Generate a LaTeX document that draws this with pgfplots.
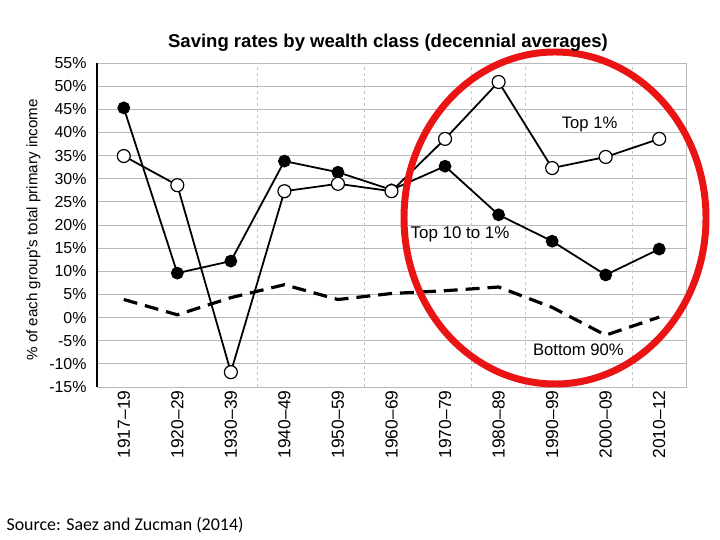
\documentclass[border=0pt]{standalone}
\usepackage{pgfplots}
\pgfplotsset{compat=1.18}
\usepackage{fontspec}
\setmainfont{Liberation Sans}
\newfontfamily\srcfont{Carlito}
\definecolor{circred}{RGB}{235,20,20}

\pgfplotstableread{
x  topten  topone  bottom
0  45.3    34.9    3.9
1  9.6     28.6    0.6
2  12.2   -11.8    4.3
3  33.8    27.3    7.1
4  31.4    28.9    3.9
5  27.6    27.3    5.2
6  32.7    38.6    5.8
7  22.2    50.9    6.6
8  16.5    32.3    2.2
9  9.2     34.7   -3.8
10 14.8    38.6    0.1
}\savings

\begin{document}
\begin{tikzpicture}[x=1bp,y=1bp]
\useasboundingbox (0,0) rectangle (720,540);
\begin{axis}[
  at={(97bp,153bp)}, anchor=south west,
  scale only axis, width=589bp, height=324bp,
  xmin=-0.5, xmax=10.5, ymin=-15, ymax=55,
  ytick={-15,-10,...,55},
  yticklabel={\pgfmathprintnumber{\tick}\%},
  /pgf/number format/assume math mode=true,
  xtick={0,...,10},
  xticklabels={1917--19,1920--29,1930--39,1940--49,1950--59,1960--69,1970--79,1980--89,1990--99,2000--09,2010--12},
  xticklabel style={rotate=90, anchor=east, font=\fontsize{17.5}{20}\selectfont},
  yticklabel style={font=\fontsize{16}{19}\selectfont, xshift=-7bp},
  extra x ticks={2.5,4.5,6.5,7.5,9.5},
  extra x tick labels={},
  extra x tick style={grid=major, major grid style={gray!45, dashed, line width=0.8pt}},
  ymajorgrids, major grid style={gray!55, line width=0.8pt},
  major tick length=0pt,
  axis line style={gray!55, line width=0.8pt},
  ylabel={\% of each group's total primary income},
  ylabel style={at={(axis description cs:-0.09,0.485)}, font=\fontsize{15.2}{18}\selectfont},
  clip=false,
]
\draw[black, line width=1.3pt] (axis cs:-0.5,-15) -- (axis cs:-0.5,55);
\addplot[black, line width=3.2pt, dash pattern=on 14pt off 8pt] table[x=x, y=bottom] {\savings};
\addplot[black, line width=1.8pt, mark=*, mark size=5.5pt, mark options={solid, fill=black}] table[x=x, y=topten] {\savings};
\addplot[black, line width=1.8pt, mark=*, mark size=6.5pt, mark options={solid, fill=white, line width=1.2pt}] table[x=x, y=topone] {\savings};
\node[font=\fontsize{16.7}{19}\selectfont] at (axis cs:8.7,41.8) {Top 1\%};
\node[font=\fontsize{17}{19}\selectfont] at (axis cs:6.28,18.0) {Top 10 to 1\%};
\node[font=\fontsize{16.7}{19}\selectfont] at (axis cs:8.49,-7.0) {Bottom 90\%};
\end{axis}
\draw[circred, line width=7pt] (555,322) ellipse [x radius=151, y radius=166];
\node[font=\bfseries\fontsize{18.6}{22}\selectfont] at (388,497) {Saving rates by wealth class (decennial averages)};
\node[anchor=west, font=\srcfont\fontsize{18}{21}\selectfont] at (3,15) {Source: Saez and Zucman (2014)};
\end{tikzpicture}
\end{document}
